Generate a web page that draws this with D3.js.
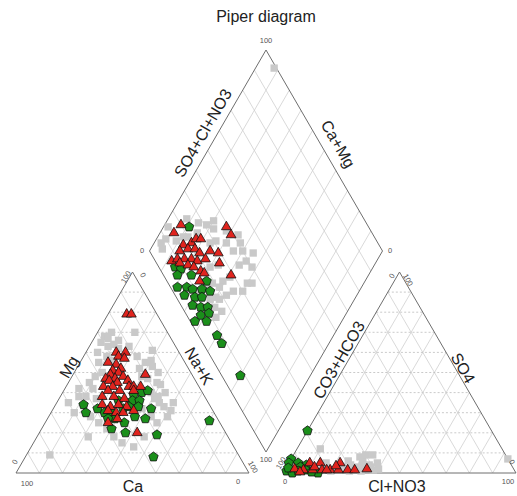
<!DOCTYPE html>
<html><head><meta charset="utf-8">
<script src="https://cdn.jsdelivr.net/npm/d3@7"></script>
<style>body{margin:0;background:#fff}svg{display:block}</style>
</head><body>
<svg id="c" width="517" height="496"></svg>
<script>
// ---- data (percent values) ----
// cation triangle: [Mg, Na+K]  (Ca = 100 - Mg - Na+K)
const catGray = [[68,4],[70,6],[65,4],[67,6],[60,5],[63,8],[66,11],[70,16],[58,23],[61,28],[55,28],[53,32],[50,36],[47,33],[45,38],[40,44],[37,41],[33,47],[31,51],[38,8],[38,11],[42,12],[37,16],[25,23],[18,22],[9,10],[18,33],[13,44],[18,46],[28,44],[52,27],[63,17],[28,18],[32,38],[38,42],[55,8],[45,9],[28,51],[64,10],[62,13],[58,10],[56,13],[50,12],[48,10],[42,6],[35,5],[30,10],[22,28],[15,38],[35,44],[44,40],[56,30],[48,30],[40,38],[35,50],[25,48]];
const catRed = [[79,8],[79,10],[60,13],[60,17],[58,15],[57,18],[55,12],[54,16],[52,19],[51,16],[50,19],[49,16],[47,15],[47,19],[48,22],[49,31],[46,17],[45,21],[46,25],[43,16],[43,20],[43,27],[43,29],[43,32],[41,19],[41,24],[38,18],[38,23],[37,28],[41,30],[34,20],[33,24],[34,27],[33,31],[31,24],[30,28],[30,31],[31,35],[25,27],[20,42],[27,30]];
const catGreen = [[34,12],[30,15],[30,23],[30,26],[32,30],[39,31],[40,34],[41,36],[36,32],[36,35],[32,42],[27,42],[28,37],[25,34],[22,30],[20,37],[27,29],[19,51],[8,55],[26,70],[33,32],[33,36],[36,26],[32,19],[27,26]];
// anion triangle: [SO4, Cl+NO3]  (CO3+HCO3 = rest)
const anGray = [[12,10],[8,29],[6.5,31],[3,30],[4,35],[3,24],[3,17],[1.5,38],[9,31],[9,34],[7,93],[2,12],[1,20],[2,26],[4,27],[1,33],[2,40],[5,16],[3,8],[2,18],[3,22],[1,28],[4,32],[2,36],[5,38],[6,25],[1,14],[3,36]];
const anRed = [[2,4],[1.5,8],[1.5,12],[5,13.5],[1.5,16],[1.5,19.5],[5,22],[1.5,23],[1.5,27],[1.5,18],[5,9],[2,35],[1.5,30],[0.5,7],[3,12],[3.5,21]];
const anGreen = [[21,0],[7,0],[5,0],[5,4],[4,8],[1,1],[0,4],[1.5,9],[0,15],[3,6],[2.5,1],[1,6],[0.5,12]];
// diamond: [Ca+Mg, SO4+Cl+NO3]
const diaGray = [[98,14],[97,7],[95,6],[82,31],[78,33],[63,41],[55,44],[56,39],[69,35],[74,31],[70,22],[67,26],[61,24],[59,28],[65,19],[60,17],[58,14],[62,14],[50,34],[54,26],[89,18],[84,25],[91,14],[87,20],[58,35],[61,21],[92,99],[48,36],[96,10],[92,24],[86,28],[80,35],[72,38],[66,42],[60,40],[64,36],[76,28],[52,40],[50,30],[56,22],[58,18],[66,16],[62,10],[55,12],[54,16],[70,10]];
const diaRed = [[93,20],[94,15],[73,39],[69,39],[87,16],[84,20],[83,23],[81,25],[87,13],[84,17],[81,20],[78,21],[74,26],[70,29],[88,7],[86,10],[83,13],[80,16],[77,18],[74,22],[67,27],[84,10],[80,13],[77,15],[73,17],[71,18],[59,29],[71,14]];
const diaGreen = [[89,23],[85,7],[82,9],[82,6],[76,12],[68,17],[79,3],[75,7],[72,9],[68,13],[64,16],[74,4],[69,8],[66,11],[68,5],[64,8],[61,11],[62,6],[59,10],[63,2],[58,7],[50,8],[46,8],[30,8]];
const gridSteps = [10,20,30,40,50,60,70,80,90];
const title = "Piper diagram";

// ---- layout ----
const svg = d3.select("#c");
const sx = d3.scaleLinear().domain([0,100]).range([0,233]);
const sy = d3.scaleLinear().domain([0,100]).range([0,201]);
const cat0 = [16,473], an0 = [283,473], diaB = [266,452];
const catPos = (mg,nak) => [cat0[0] + sx(nak) + sx(mg)/2, cat0[1] - sy(mg)];
const anPos = (so4,cl) => [an0[0] + sx(cl) + sx(so4)/2, an0[1] - sy(so4)];
const diaPos = (cm,sc) => [diaB[0] + (sx(sc) - sx(cm))/2, diaB[1] - sy(cm) - sy(sc)];

const gGrid = svg.append("g");
function seg(a,b,dash){
  gGrid.append("line").attr("x1",a[0]).attr("y1",a[1]).attr("x2",b[0]).attr("y2",b[1])
    .attr("stroke", dash ? "#bdbdbd" : "#cfcfcf").attr("stroke-width",0.8)
    .attr("stroke-dasharray", dash ? "2,2" : null);
}
[catPos, anPos].forEach(P => {
  gridSteps.forEach(v => {
    seg(P(v,0), P(v,100-v), true);          // horizontal
    seg(P(0,v), P(100-v,v), false);
    seg(P(0,100-v), P(100-v,0), false);
  });
});
gridSteps.forEach(v => {
  seg(diaPos(v,0), diaPos(v,100), false);
  seg(diaPos(0,v), diaPos(100,v), false);
});
const outline = pts => svg.append("path").attr("d", d3.line()(pts)+"Z")
  .attr("fill","none").attr("stroke","#6e6e6e").attr("stroke-width",1);
outline([catPos(0,0), catPos(0,100), catPos(100,0)]);
outline([anPos(0,0), anPos(0,100), anPos(100,0)]);
outline([diaPos(0,0), diaPos(100,0), diaPos(100,100), diaPos(0,100)]);

// ---- markers ----
const pentagon = { draw(ctx, size){ const r = Math.sqrt(size/2.378);
  for(let i=0;i<5;i++){ const a = -Math.PI/2 + i*2*Math.PI/5; const x=r*Math.cos(a), y=r*Math.sin(a);
    if(i===0) ctx.moveTo(x,y); else ctx.lineTo(x,y);} ctx.closePath(); } };
const symGray = d3.symbol().type(d3.symbolSquare).size(54)();
const symRed = d3.symbol().type(d3.symbolTriangle).size(42)();
const symGreen = d3.symbol().type(pentagon).size(58)();
function plot(data, P, sym, fill, stroke){
  svg.append("g").selectAll("path").data(data).join("path")
    .attr("d", sym)
    .attr("transform", d => { const p = P(d[0], d[1]); return `translate(${p[0]},${p[1]})`; })
    .attr("fill", fill).attr("stroke", stroke).attr("stroke-width", stroke==="none"?0:0.8);
}
plot(catGray, catPos, symGray, "#c9c9c9", "none");
plot(anGray, anPos, symGray, "#c9c9c9", "none");
plot(diaGray, diaPos, symGray, "#c9c9c9", "none");
plot(catGreen, catPos, symGreen, "#1b8f1b", "#111");
plot(anGreen, anPos, symGreen, "#1b8f1b", "#111");
plot(diaGreen, diaPos, symGreen, "#1b8f1b", "#111");
plot(catRed, catPos, symRed, "#e0241e", "#111");
plot(anRed, anPos, symRed, "#e0241e", "#111");
plot(diaRed, diaPos, symRed, "#e0241e", "#111");

// ---- text ----
const font = "Liberation Sans, Arial, sans-serif";
function txt(s,x,y,size,rot,fill){
  svg.append("text").attr("x",x).attr("y",y).attr("text-anchor","middle").attr("dominant-baseline","central")
    .attr("transform", rot ? `rotate(${rot},${x},${y})` : null)
    .attr("font-family",font).attr("font-size",size).attr("fill",fill||"#222").text(s);
}
txt(title, 266, 16, 16, 0, "#222");
// axis titles
txt("SO4+Cl+NO3", 203, 133, 16, -60);
txt("Ca+Mg", 338, 144, 16, 60);
txt("Mg", 69, 367, 16, -60);
txt("Na+K", 199, 366, 16, 60);
txt("Ca", 133, 486, 16, 0);
txt("CO3+HCO3", 339, 360, 16, -60);
txt("SO4", 463, 368, 16, 60);
txt("Cl+NO3", 397, 486, 16, 0);
// tick labels
const tk = (s,x,y,r) => txt(s,x,y,7.5,r,"#555");
tk("100",266,40,0); tk("0",142,250,0); tk("0",390,250,0); tk("100",266,459,0);
tk("100",126,277,-60); tk("0",143,275,60); tk("0",15,462,-60); tk("100",27,483,0); tk("0",238,481,0); tk("100",253,467,60);
tk("0",392,276,-60); tk("100",408,280,60); tk("100",281,463,-60); tk("0",285,481,0); tk("100",508,481,0); tk("0",512,462,60);
</script>
</body></html>
